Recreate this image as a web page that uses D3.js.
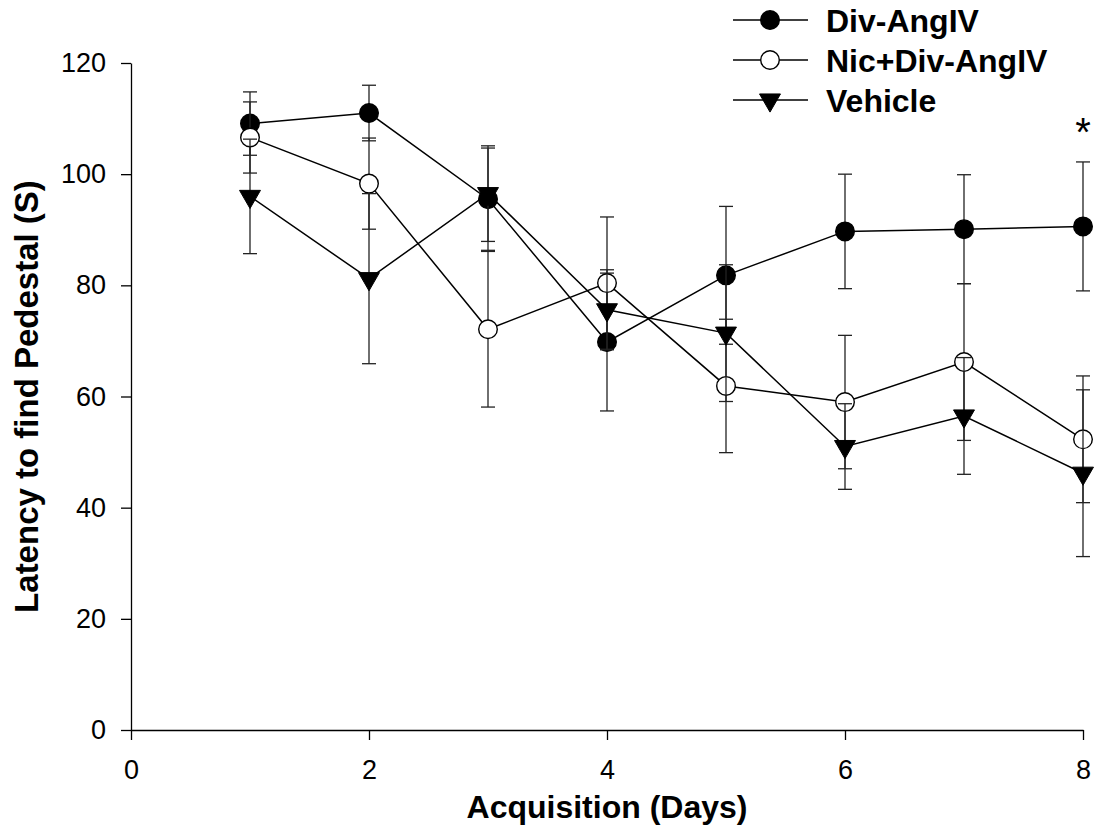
<!DOCTYPE html>
<html>
<head>
<meta charset="utf-8">
<script src="https://cdn.jsdelivr.net/npm/d3@7"></script>
<style>
  body { margin: 0; background: #fff; }
  text { font-family: "Liberation Sans", Arial, sans-serif; }
</style>
</head>
<body>
<div id="chart"></div>
<script>
const days = [1, 2, 3, 4, 5, 6, 7, 8];
const divMean = [109.1, 111.0, 95.5, 69.8, 81.8, 89.7, 90.1, 90.6];
const divErr  = [5.7, 5.0, 9.2, 12.4, 12.4, 10.3, 9.8, 11.6];
const nicMean = [106.6, 98.3, 72.1, 80.4, 61.9, 59.0, 66.2, 52.3];
const nicErr  = [6.4, 8.2, 14.0, 11.9, 12.0, 12.0, 14.1, 11.4];
const vehMean = [96.0, 81.2, 96.5, 75.6, 71.4, 51.0, 56.5, 46.2];
const vehErr  = [10.3, 15.3, 8.6, 7.2, 12.3, 7.7, 10.5, 15.0];
const xTicks = [0, 2, 4, 6, 8];
const yTicks = [0, 20, 40, 60, 80, 100, 120];

const series = [
    {name: "Div-AngIV", mean: divMean, err: divErr, shape: "circle", fill: "#000"},
    {name: "Nic+Div-AngIV", mean: nicMean, err: nicErr, shape: "circle", fill: "#fff"},
    {name: "Vehicle", mean: vehMean, err: vehErr, shape: "triangle", fill: "#000"}
];

const W = 1101, H = 838;
const margin = {top: 63, right: 18, bottom: 108, left: 131},
    width = W - margin.left - margin.right,
    height = H - margin.top - margin.bottom;

const svg = d3.select("#chart")
    .append("svg")
    .attr("width", W)
    .attr("height", H);

const g = svg.append("g")
    .attr("transform", `translate(${margin.left},${margin.top})`);

const x = d3.scaleLinear().domain([0, 8]).range([0, width]);
const y = d3.scaleLinear().domain([0, 120]).range([height, 0]);

const xAxis = g.append("g")
    .attr("transform", `translate(0,${height})`)
    .call(d3.axisBottom(x).tickValues(xTicks).tickSize(10).tickPadding(20).tickSizeOuter(0));
const yAxis = g.append("g")
    .call(d3.axisLeft(y).tickValues(yTicks).tickSize(10).tickPadding(15).tickSizeOuter(0));

[xAxis, yAxis].forEach(a => {
    a.selectAll("path, line").attr("stroke", "#000").attr("stroke-width", 1.3);
    a.selectAll("text").attr("fill", "#000").style("font-size", "27px")
        .style("font-family", '"Liberation Sans", Arial, sans-serif');
});

svg.append("text")
    .attr("x", margin.left + width / 2).attr("y", 818)
    .attr("text-anchor", "middle")
    .style("font-size", "32px").style("font-weight", "bold")
    .text("Acquisition (Days)");

svg.append("text")
    .attr("transform", `translate(38,${margin.top + height / 2}) rotate(-90)`)
    .attr("text-anchor", "middle")
    .style("font-size", "33px").style("font-weight", "bold")
    .text("Latency to find Pedestal (S)");

const line = d3.line().x((d, i) => x(days[i])).y(d => y(d));
const tri = d3.symbol().type(d3.symbolTriangle).size(190);

function marker(sel, s) {
    if (s.shape === "circle") {
        sel.append("circle").attr("r", 9.3)
            .attr("fill", s.fill).attr("stroke", "#000").attr("stroke-width", 1.4);
    } else {
        sel.append("path").attr("d", tri).attr("transform", "rotate(180)")
            .attr("fill", s.fill).attr("stroke", "#000").attr("stroke-width", 1);
    }
}

series.forEach(s => {
    g.append("path")
        .datum(s.mean)
        .attr("fill", "none")
        .attr("stroke", "#000")
        .attr("stroke-width", 1.5)
        .attr("d", line);
});

const cap = 7;
series.forEach(s => {
    const eb = g.append("g").attr("stroke", "#222").attr("stroke-width", 1.3);
    s.mean.forEach((m, i) => {
        const cx = x(days[i]), y1 = y(m + s.err[i]), y0 = y(m - s.err[i]);
        eb.append("line").attr("x1", cx).attr("x2", cx).attr("y1", y1).attr("y2", y0);
        eb.append("line").attr("x1", cx - cap).attr("x2", cx + cap).attr("y1", y1).attr("y2", y1);
        eb.append("line").attr("x1", cx - cap).attr("x2", cx + cap).attr("y1", y0).attr("y2", y0);
    });
    s.mean.forEach((m, i) => {
        const mk = g.append("g").attr("transform", `translate(${x(days[i])},${y(m)})`);
        marker(mk, s);
    });
});

// legend
const legend = svg.append("g");
series.forEach((s, i) => {
    const ly = 20 + i * 40;
    legend.append("line").attr("x1", 733).attr("x2", 808).attr("y1", ly).attr("y2", ly)
        .attr("stroke", "#000").attr("stroke-width", 1.5);
    const mk = legend.append("g").attr("transform", `translate(770,${ly})`);
    marker(mk, s);
    legend.append("text").attr("x", 826).attr("y", ly + 11.5)
        .style("font-size", "32px").style("font-weight", "bold")
        .text(s.name);
});

svg.append("text")
    .attr("x", x(8) + margin.left).attr("y", 146)
    .attr("text-anchor", "middle")
    .style("font-size", "40px")
    .text("*");
</script>
</body>
</html>
